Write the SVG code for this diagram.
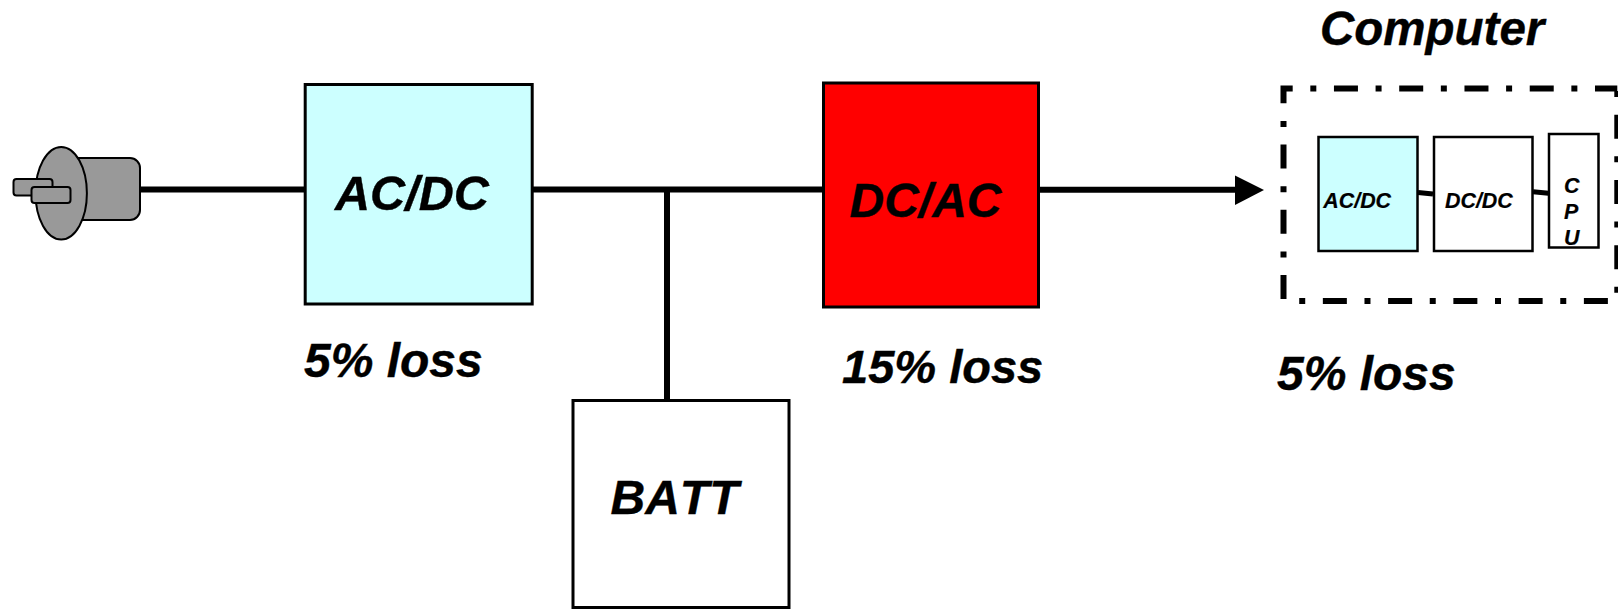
<svg xmlns="http://www.w3.org/2000/svg" width="1618" height="613" viewBox="0 0 1618 613">
  <style>
    .box { stroke: #000; stroke-width: 3; }
    .small { stroke: #000; stroke-width: 2.5; }
    .wire { stroke: #000; stroke-width: 6; fill: none; }
    .thin { stroke: #000; stroke-width: 5; fill: none; }
    .plug { fill: #999999; stroke: #000; stroke-width: 2; }
    text { font-family: "Liberation Sans", Arial, sans-serif; font-weight: bold; font-style: italic; fill: #000; stroke: #000; stroke-width: 0.4; font-kerning: none; }
    .big { font-size: 48px; }
    .tiny { font-size: 21.4px; stroke-width: 0.2; }
  </style>
  <defs>
    <marker id="arrow" markerUnits="userSpaceOnUse" markerWidth="30" markerHeight="30" refX="29" refY="15" orient="auto">
      <path d="M0 0.5L29 15L0 29.5Z" fill="#000"/>
    </marker>
  </defs>
  <rect width="1618" height="613" fill="#fff"/>
  <g id="connectors">
    <path class="wire" d="M140 189.5H305"/>
    <path class="wire" d="M533 189.5H823"/>
    <path class="wire" d="M667 189.5V403"/>
    <path class="wire" d="M1039 189.7H1240"/>
    <path d="M1235 175.5L1264 190L1235 205Z" fill="#000"/>
    <path class="thin" d="M1418 192.5L1433 194"/>
    <path class="thin" d="M1533 191.7L1548.5 193.3"/>
  </g>
  <g id="plug">
    <rect class="plug" x="60" y="158" width="80" height="62" rx="10"/>
    <ellipse class="plug" cx="61.2" cy="193.3" rx="25.7" ry="46.3"/>
    <rect class="plug" x="13.5" y="179" width="39" height="16.5" rx="3"/>
    <rect class="plug" x="31.5" y="187" width="39" height="16" rx="3"/>
  </g>
  <g id="acdc">
    <rect class="box" x="305.2" y="84.5" width="227" height="219.5" fill="#CCFFFF"/>
    <text class="big" x="335" y="210" style="font-size:48.6px">AC/DC</text>
  </g>
  <g id="dcac">
    <rect class="box" x="823.5" y="83" width="215" height="224" fill="#FF0000"/>
    <text class="big" x="849.5" y="216.7">DC/AC</text>
  </g>
  <g id="batt">
    <rect class="box" x="573" y="400.5" width="216" height="207" fill="#fff"/>
    <text class="big" x="610.5" y="514">BATT</text>
  </g>
  <g id="computer">
    <path d="M1617.3 91V301H1283.5V88.5H1617.3" fill="none" stroke="#000" stroke-width="6" stroke-dasharray="6 17.63 24 17.63"/>
    <text x="1320" y="45" font-size="47.5">Computer</text>
  </g>
  <g id="computer-acdc">
    <rect class="small" x="1318.5" y="137" width="99" height="114" fill="#CCFFFF"/>
    <text class="tiny" x="1323.3" y="208.3">AC/DC</text>
  </g>
  <g id="computer-dcdc">
    <rect class="small" x="1434" y="137" width="98.5" height="114" fill="#fff"/>
    <text class="tiny" x="1445" y="208.3">DC/DC</text>
  </g>
  <g id="computer-cpu">
    <rect class="small" x="1549" y="134" width="49.5" height="113.5" fill="#fff"/>
    <text class="tiny" x="1564" y="192.7">C</text>
    <text class="tiny" x="1564" y="218.7">P</text>
    <text class="tiny" x="1564" y="245">U</text>
  </g>
  <g id="labels">
    <text class="big" x="304" y="376.7">5% loss</text>
    <text class="big" x="842" y="382.7" style="font-size:47px">15% loss</text>
    <text class="big" x="1277" y="390">5% loss</text>
  </g>
</svg>
